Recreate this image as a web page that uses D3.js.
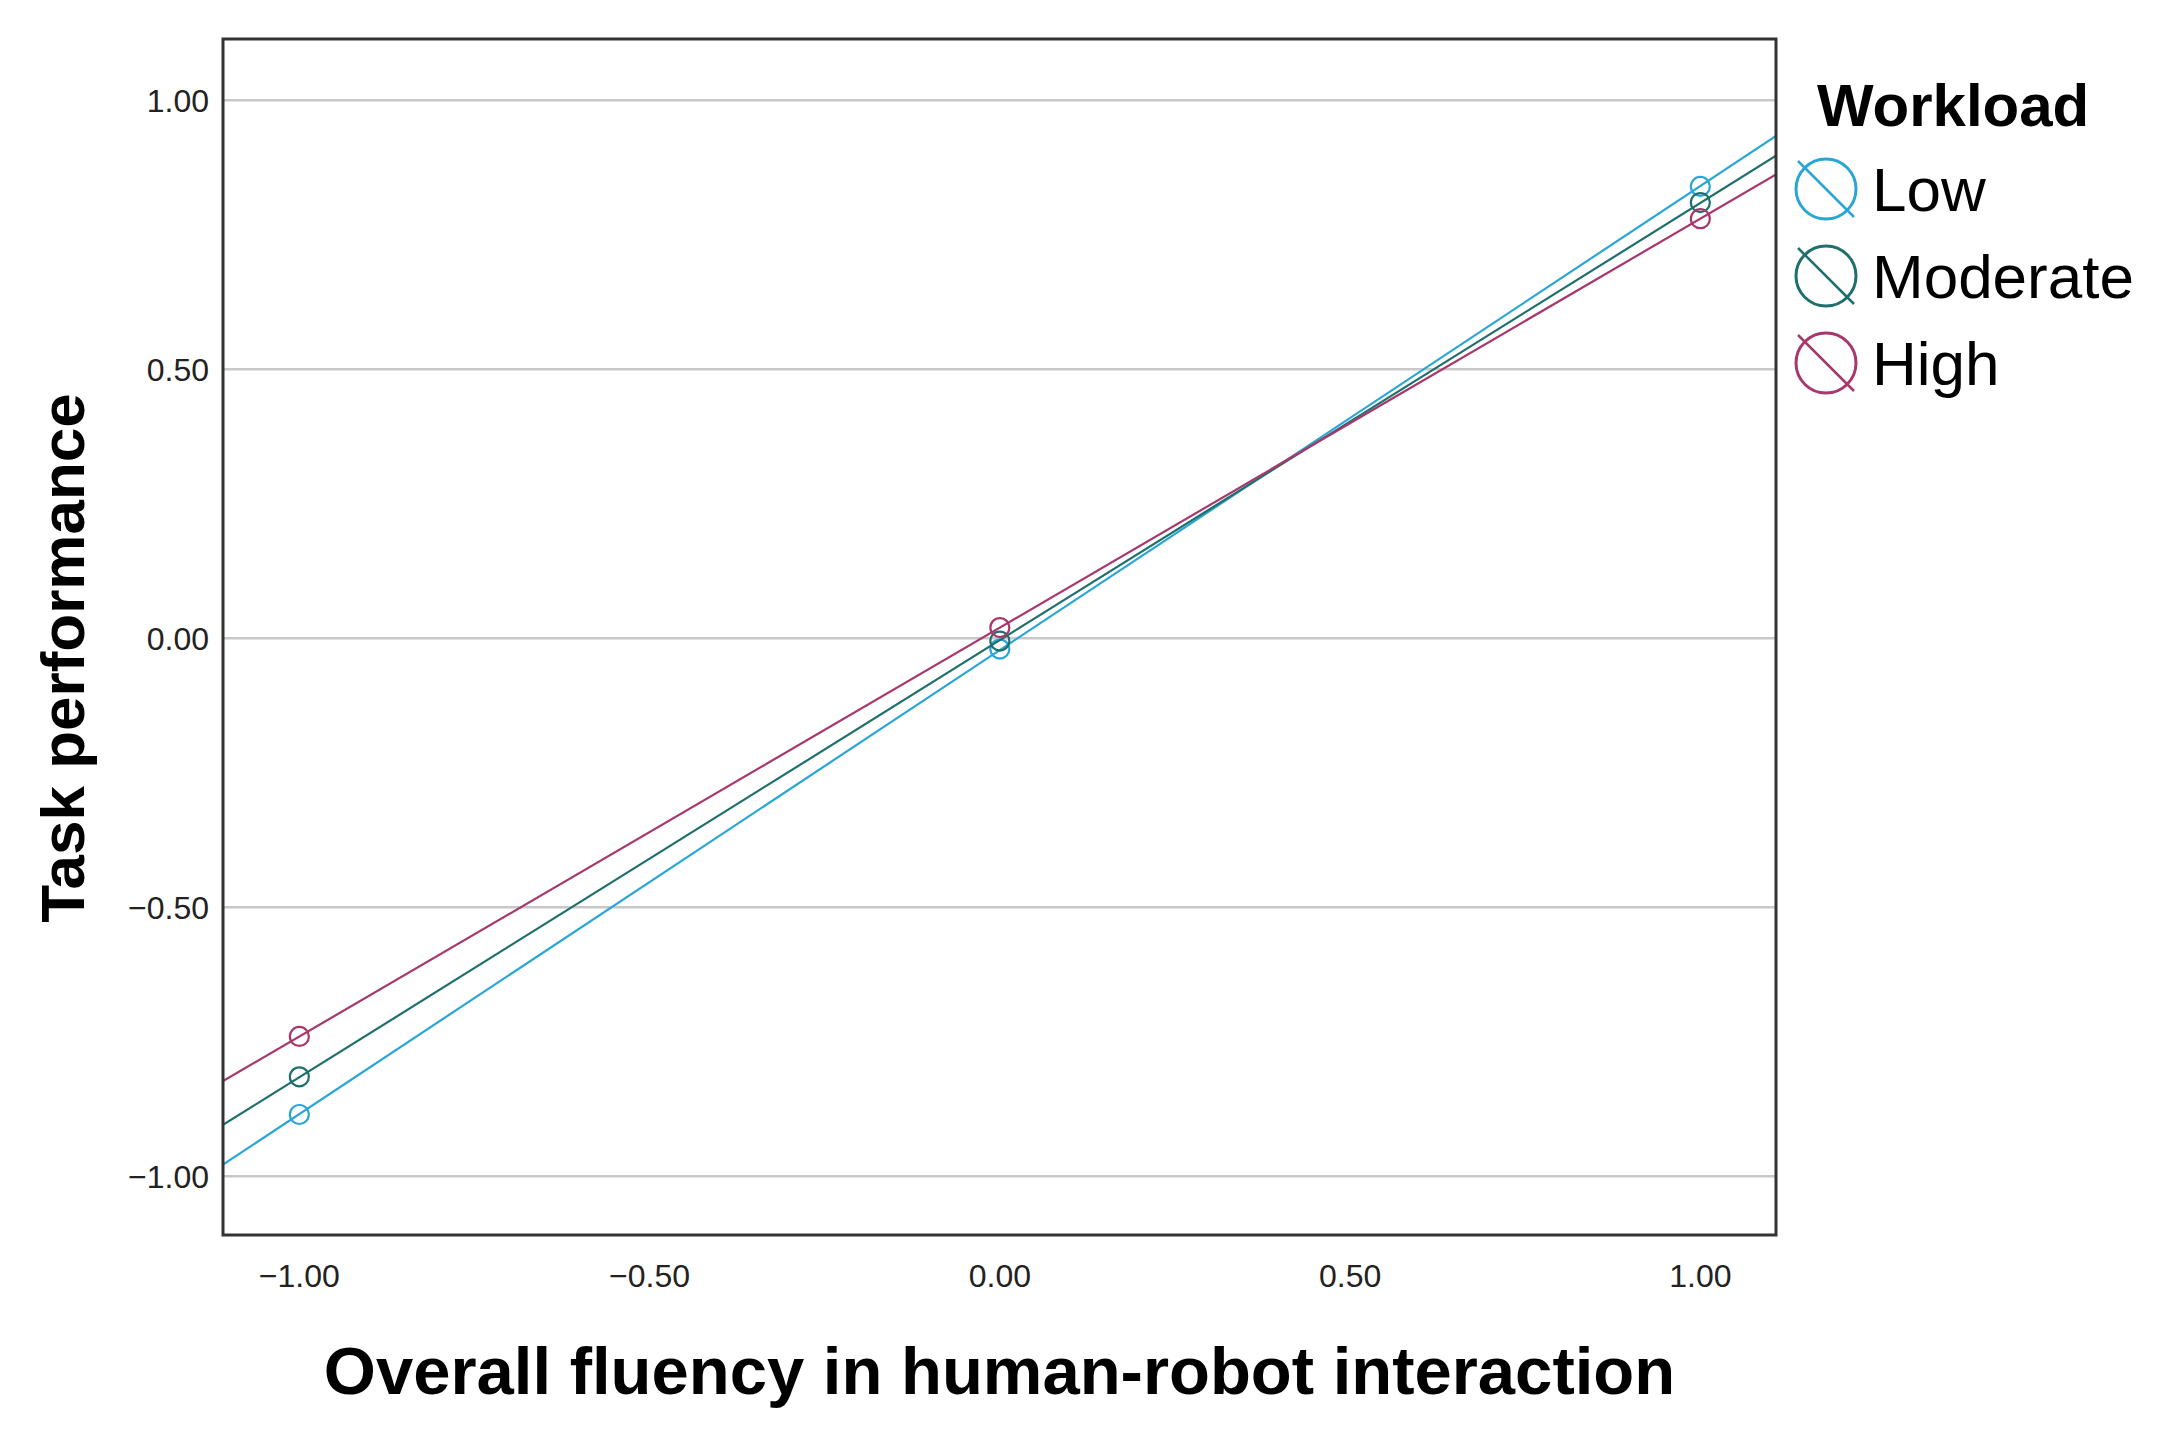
<!DOCTYPE html>
<html><head><meta charset="utf-8">
<script src="https://cdn.jsdelivr.net/npm/d3@7"></script>
<style>body{margin:0;background:#fff}</style>
</head><body><div id="chart"></div>
<script>
const xValues = [-1, 0, 1];
const seriesNames = ["Low", "Moderate", "High"];
const lowValues = [-0.885, -0.02, 0.84];
const moderateValues = [-0.815, -0.005, 0.81];
const highValues = [-0.74, 0.02, 0.78];
const colors = ["#2aa6d6", "#1f6f6c", "#a8386c"];
const tickValues = [-1, -0.5, 0, 0.5, 1];

const W = 2179, H = 1433;
const margin = { top: 39, right: 403, bottom: 198, left: 223 };
const width = W - margin.left - margin.right, height = H - margin.top - margin.bottom;

const svg = d3.select("#chart").append("svg").attr("width", W).attr("height", H)
    .style("font-family", "Arial, 'Liberation Sans', sans-serif");
const g = svg.append("g").attr("transform", `translate(${margin.left},${margin.top})`);

const x = d3.scaleLinear().domain([-1.109, 1.108]).range([0, width]);
const y = d3.scaleLinear().domain([-1.109, 1.114]).range([height, 0]);

// grid
g.append("g").selectAll("line").data(tickValues).enter().append("line")
    .attr("x1", 0).attr("x2", width).attr("y1", d => y(d)).attr("y2", d => y(d))
    .attr("stroke", "#c8c8c8").attr("stroke-width", 2.5);

const series = [lowValues, moderateValues, highValues].map((vals, i) => ({ name: seriesNames[i], color: colors[i], vals }));

g.append("clipPath").attr("id", "clip").append("rect").attr("width", width).attr("height", height);

series.forEach(s => {
  // least-squares line through the three points, drawn across the plot
  const mx = d3.mean(xValues), my = d3.mean(s.vals);
  const slope = d3.sum(xValues, (xv, i) => (xv - mx) * (s.vals[i] - my)) / d3.sum(xValues, xv => (xv - mx) ** 2);
  const f = xv => my + slope * (xv - mx);
  const [x0, x1] = x.domain();
  g.append("line").attr("clip-path", "url(#clip)")
      .attr("x1", x(x0)).attr("y1", y(f(x0))).attr("x2", x(x1)).attr("y2", y(f(x1)))
      .attr("stroke", s.color).attr("stroke-width", 2.2);
  g.selectAll(null).data(xValues).enter().append("circle")
      .attr("cx", d => x(d)).attr("cy", (d, i) => y(s.vals[i])).attr("r", 9.5)
      .attr("fill", "none").attr("stroke", s.color).attr("stroke-width", 2.2);
});

g.append("rect").attr("width", width).attr("height", height).attr("fill", "none")
    .attr("stroke", "#333").attr("stroke-width", 3);

const fmt = d3.format(".2f");
const lab = d => fmt(d).replace("-", "\u2212");
g.append("g").selectAll("text").data(tickValues).enter().append("text")
    .attr("x", -14).attr("y", d => y(d)).attr("dy", "0.35em").attr("text-anchor", "end")
    .attr("font-size", 32).attr("fill", "#222").text(lab);
g.append("g").selectAll("text").data(tickValues).enter().append("text")
    .attr("x", d => x(d)).attr("y", height + 52).attr("text-anchor", "middle")
    .attr("font-size", 32).attr("fill", "#222").text(lab);

svg.append("text").attr("x", margin.left + width / 2).attr("y", 1394).attr("text-anchor", "middle")
    .attr("font-size", 67).attr("font-weight", "bold").text("Overall fluency in human-robot interaction");
svg.append("text").attr("transform", "translate(84,658) rotate(-90)").attr("text-anchor", "middle")
    .attr("font-size", 62).attr("font-weight", "bold").text("Task performance");

// legend
const leg = svg.append("g");
leg.append("text").attr("x", 1817).attr("y", 126).attr("font-size", 60).attr("font-weight", "bold").text("Workload");
series.forEach((s, i) => {
  const cy = 189 + i * 87, cx = 1826;
  leg.append("circle").attr("cx", cx).attr("cy", cy).attr("r", 30).attr("fill", "none")
      .attr("stroke", s.color).attr("stroke-width", 3);
  leg.append("line").attr("x1", cx - 28).attr("y1", cy - 28).attr("x2", cx + 28).attr("y2", cy + 28)
      .attr("stroke", s.color).attr("stroke-width", 2.5);
  leg.append("text").attr("x", 1872).attr("y", cy + 22).attr("font-size", 62).text(s.name);
});
</script></body></html>
